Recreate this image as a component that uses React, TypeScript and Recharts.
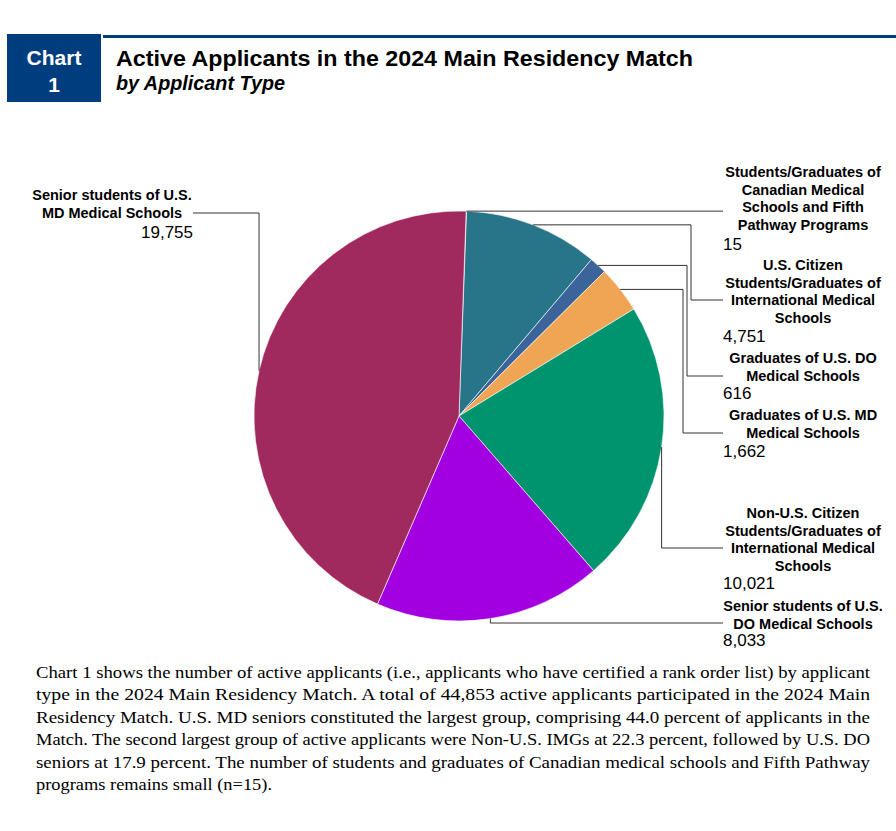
import React from 'react';
import { PieChart, Pie, Cell } from 'recharts';

const RADIAN = Math.PI / 180;

// clockwise from the top of the pie
const categories = [
  'Students/Graduates of Canadian Medical Schools and Fifth Pathway Programs',
  'U.S. Citizen Students/Graduates of International Medical Schools',
  'Graduates of U.S. DO Medical Schools',
  'Graduates of U.S. MD Medical Schools',
  'Non-U.S. Citizen Students/Graduates of International Medical Schools',
  'Senior students of U.S. DO Medical Schools',
  'Senior students of U.S. MD Medical Schools',
];
const applicants = [15, 4751, 616, 1662, 10021, 8033, 19755];
const labelLines = [
  ['Students/Graduates of', 'Canadian Medical', 'Schools and Fifth', 'Pathway Programs'],
  ['U.S. Citizen', 'Students/Graduates of', 'International Medical', 'Schools'],
  ['Graduates of U.S. DO', 'Medical Schools'],
  ['Graduates of U.S. MD', 'Medical Schools'],
  ['Non-U.S. Citizen', 'Students/Graduates of', 'International Medical', 'Schools'],
  ['Senior students of U.S.', 'DO Medical Schools'],
  ['Senior students of U.S.', 'MD Medical Schools'],
];
const sliceColors = ['#6A8CC7', '#28758A', '#3B649A', '#F0A555', '#00946E', '#A200E0', '#A02A5E'];

const paragraphLines = [
  'Chart 1 shows the number of active applicants (i.e., applicants who have certified a rank order list) by applicant',
  'type in the 2024 Main Residency Match. A total of 44,853 active applicants participated in the 2024 Main',
  'Residency Match. U.S. MD seniors constituted the largest group, comprising 44.0 percent of applicants in the',
  'Match. The second largest group of active applicants were Non-U.S. IMGs at 22.3 percent, followed by U.S. DO',
  'seniors at 17.9 percent. The number of students and graduates of Canadian medical schools and Fifth Pathway',
  'programs remains small (n=15).',
];

const data = categories.map((name, i) => ({ name, value: applicants[i] }));

// where each callout goes (elbowX/joinY null = use the slice point)
const labelLayout = [
  { elbowX: 723, joinY: null, endX: 723, textX: 803, top: 177, valueX: 723, valueY: 250, anchor: 'start' },
  { elbowX: 691, joinY: 300, endX: 723, textX: 803, top: 270, valueX: 723, valueY: 342, anchor: 'start' },
  { elbowX: 687, joinY: 376, endX: 723, textX: 803, top: 363, valueX: 723, valueY: 399, anchor: 'start' },
  { elbowX: 683, joinY: 433, endX: 723, textX: 803, top: 420, valueX: 723, valueY: 457, anchor: 'start' },
  { elbowX: null, joinY: 548, endX: 723, textX: 803, top: 518, valueX: 723, valueY: 589, anchor: 'start' },
  { elbowX: null, joinY: 623, endX: 723, textX: 803, top: 611, valueX: 723, valueY: 646, anchor: 'start' },
  { elbowX: null, joinY: 213, endX: 193, textX: 112, top: 200, valueX: 193, valueY: 238, anchor: 'end' },
];

const SANS = "Arial, 'Liberation Sans', sans-serif";
const SERIF = "'Times New Roman', 'Liberation Serif', serif";
const NAVY = '#003D7E';

const renderLabel = (props: any) => {
  const { cx, cy, midAngle, outerRadius, index } = props;
  const sx = cx + outerRadius * Math.cos(-midAngle * RADIAN);
  const sy = cy + outerRadius * Math.sin(-midAngle * RADIAN);
  const L = labelLayout[index];
  const ex = L.elbowX ?? sx;
  const jy = L.joinY ?? sy;
  return (
    <g key={`callout-${index}`}>
      <path d={`M${sx},${sy}H${ex}V${jy}H${L.endX}`} fill="none" stroke="#333" strokeWidth={1} />
      <text textAnchor="middle" fontFamily={SANS} fontWeight="bold" fontSize={14.5} fill="#000">
        {labelLines[index].map((t, i) => (
          <tspan key={i} x={L.textX} y={L.top + i * 17.5}>
            {t}
          </tspan>
        ))}
      </text>
      <text x={L.valueX} y={L.valueY} textAnchor={L.anchor} fontFamily={SANS} fontSize={17} fill="#000">
        {applicants[index].toLocaleString('en-US')}
      </text>
    </g>
  );
};

export default function App() {
  return (
    <div style={{ position: 'absolute', left: 0, top: 0, width: 896, height: 831, background: '#fff' }}>
      <div style={{ position: 'absolute', left: 0, top: 0 }}>
        <PieChart width={896} height={831} margin={{ top: 0, right: 0, bottom: 0, left: 0 }}>
          <Pie
            data={data}
            dataKey="value"
            nameKey="name"
            cx={459}
            cy={416}
            outerRadius={205}
            startAngle={88}
            endAngle={-272}
            stroke="#ffffff"
            strokeWidth={0.6}
            label={renderLabel}
            labelLine={false}
            isAnimationActive={false}
          >
            {data.map((d, i) => (
              <Cell key={d.name} fill={sliceColors[i]} />
            ))}
          </Pie>
        </PieChart>
      </div>
      <svg width={896} height={831} style={{ position: 'absolute', left: 0, top: 0, pointerEvents: 'none' }}>
        <rect x={7} y={34} width={94} height={68} fill={NAVY} />
        <rect x={103} y={35} width={793} height={3} fill={NAVY} />
        <text x={54} y={65} textAnchor="middle" fontFamily={SANS} fontWeight="bold" fontSize={21} fill="#fff">
          Chart
        </text>
        <text x={54} y={92} textAnchor="middle" fontFamily={SANS} fontWeight="bold" fontSize={21} fill="#fff">
          1
        </text>
        <text x={116} y={66} fontFamily={SANS} fontWeight="bold" fontSize={22} fill="#000" textLength={577} lengthAdjust="spacingAndGlyphs">
          Active Applicants in the 2024 Main Residency Match
        </text>
        <text x={116} y={90} fontFamily={SANS} fontWeight="bold" fontStyle="italic" fontSize={19.5} fill="#000" textLength={169} lengthAdjust="spacingAndGlyphs">
          by Applicant Type
        </text>
        {paragraphLines.map((line, i) => {
          const last = i === paragraphLines.length - 1;
          return (
            <text
              key={i}
              x={36}
              y={678 + i * 22.4}
              fontFamily={SERIF}
              fontSize={17}
              fill="#000"
              textLength={last ? 236 : 834}
              lengthAdjust="spacingAndGlyphs"
            >
              {line}
            </text>
          );
        })}
      </svg>
    </div>
  );
}
